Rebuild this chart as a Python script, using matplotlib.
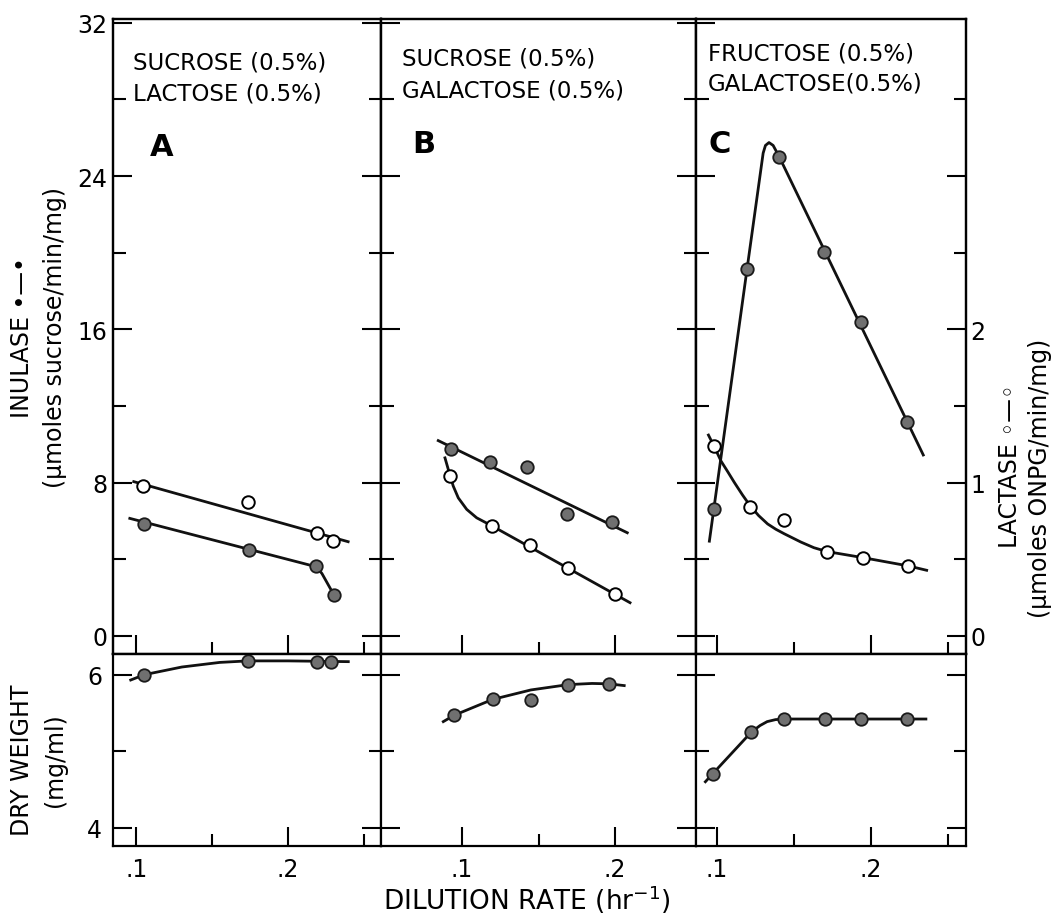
import matplotlib
matplotlib.use("Agg")
import matplotlib.pyplot as plt

plt.rcParams["font.family"] = ["DejaVu Sans"]

W, H = 1057, 920

# dilution rate (hr^-1) vs. inulase (umoles sucrose/min/mg),
# lactase (umoles ONPG/min/mg) and dry weight (mg/ml)

# A: sucrose + lactose
a_inu_x = [0.1053, 0.1742, 0.2189, 0.2303]
a_inu_y = [5.85, 4.47, 3.63, 2.15]
a_lac_x = [0.1044, 0.1735, 0.2194, 0.2299]
a_lac_y = [0.98, 0.87, 0.674, 0.62]
a_dw_x = [0.1053, 0.1737, 0.2193, 0.2288]
a_dw_y = [6.0, 6.18, 6.17, 6.17]
a_inu_fit_x = [0.0956, 0.2189, 0.2225, 0.2303]
a_inu_fit_y = [6.13, 3.60, 3.25, 2.15]
a_lac_fit_x = [0.0982, 0.2398]
a_lac_fit_y = [1.006, 0.614]
a_dw_fit_x = [0.0962, 0.1053, 0.13, 0.155, 0.1737, 0.2, 0.2399]
a_dw_fit_y = [5.93, 6.0, 6.1, 6.16, 6.18, 6.18, 6.17]

# B: sucrose + galactose
b_inu_x = [0.0928, 0.1183, 0.1423, 0.1684, 0.1983]
b_inu_y = [9.75, 9.08, 8.82, 6.34, 5.94]
b_lac_x = [0.0922, 0.1198, 0.1444, 0.1695, 0.2]
b_lac_y = [1.046, 0.716, 0.59, 0.445, 0.27]
b_dw_x = [0.095, 0.12, 0.1449, 0.1695, 0.196]
b_dw_y = [5.47, 5.676, 5.667, 5.87, 5.88]
b_inu_fit_x = [0.0845, 0.208]
b_inu_fit_y = [10.19, 5.38]
b_lac_fit_x = [0.0889, 0.0922, 0.0943, 0.0976, 0.1031, 0.1096, 0.1198, 0.2098]
b_lac_fit_y = [1.161, 1.046, 0.977, 0.90, 0.825, 0.77, 0.716, 0.216]
b_dw_fit_x = [0.0878, 0.095, 0.12, 0.145, 0.1695, 0.185, 0.196, 0.206]
b_dw_fit_y = [5.386, 5.47, 5.676, 5.80, 5.87, 5.885, 5.88, 5.857]

# C: fructose + galactose
c_inu_x = [0.0979, 0.1195, 0.1405, 0.1693, 0.1938, 0.2239]
c_inu_y = [6.62, 19.14, 25.0, 20.04, 16.38, 11.14]
c_lac_x = [0.0979, 0.1214, 0.1433, 0.1714, 0.195, 0.2245]
c_lac_y = [1.24, 0.84, 0.756, 0.55, 0.51, 0.456]
c_dw_x = [0.0972, 0.1222, 0.1435, 0.1703, 0.1935, 0.2233]
c_dw_y = [4.705, 5.247, 5.42, 5.42, 5.42, 5.42]
c_inu_fit_x = [0.095, 0.1195, 0.130, 0.1315, 0.1338, 0.1365, 0.1405, 0.2342]
c_inu_fit_y = [4.94, 19.14, 25.2, 25.6, 25.75, 25.6, 25.0, 9.44]
c_lac_fit_x = [0.0944, 0.0979, 0.1026, 0.107, 0.1113, 0.1165, 0.1214, 0.127,
               0.1329, 0.1383, 0.1437, 0.1545, 0.163, 0.1714, 0.195, 0.2245, 0.2364]
c_lac_fit_y = [1.31, 1.24, 1.14, 1.07, 1.0, 0.92, 0.85, 0.785,
               0.73, 0.695, 0.666, 0.612, 0.575, 0.55, 0.51, 0.456, 0.4275]
c_dw_fit_x = [0.0924, 0.0972, 0.1222, 0.1280, 0.1326, 0.1380, 0.1435, 0.2359]
c_dw_fit_y = [4.6, 4.705, 5.247, 5.335, 5.386, 5.412, 5.42, 5.42]

panel_text = [("SUCROSE (0.5%)", "LACTOSE (0.5%)", "A"),
              ("SUCROSE (0.5%)", "GALACTOSE (0.5%)", "B"),
              ("FRUCTOSE (0.5%)", "GALACTOSE(0.5%)", "C")]

inu_lim = (-0.95, 32.2)
lac_lim = (inu_lim[0] / 8, inu_lim[1] / 8)
dw_lim = (3.76, 6.27)

cols = [(113, 381), (381, 696), (696, 966)]
xlims = [(0.0845, 0.2615), (0.0471, 0.2529), (0.0863, 0.262)]
minor_x = [[0.15, 0.25], [0.15], [0.15, 0.25]]
text_pos = [(0.075, 0.950, 0.902, 0.138, 0.822),
            (0.067, 0.956, 0.906, 0.098, 0.827),
            (0.044, 0.965, 0.917, 0.048, 0.827)]

data = [
    (a_inu_x, a_inu_y, a_lac_x, a_lac_y, a_dw_x, a_dw_y,
     a_inu_fit_x, a_inu_fit_y, a_lac_fit_x, a_lac_fit_y, a_dw_fit_x, a_dw_fit_y),
    (b_inu_x, b_inu_y, b_lac_x, b_lac_y, b_dw_x, b_dw_y,
     b_inu_fit_x, b_inu_fit_y, b_lac_fit_x, b_lac_fit_y, b_dw_fit_x, b_dw_fit_y),
    (c_inu_x, c_inu_y, c_lac_x, c_lac_y, c_dw_x, c_dw_y,
     c_inu_fit_x, c_inu_fit_y, c_lac_fit_x, c_lac_fit_y, c_dw_fit_x, c_dw_fit_y),
]

fig = plt.figure(figsize=(W / 100, H / 100), dpi=100)


def add_panel(left, right, top, bottom):
    return fig.add_axes([left / W, 1 - bottom / H, (right - left) / W, (bottom - top) / H])


def style_axes(ax):
    for s in ax.spines.values():
        s.set_linewidth(1.6)
    ax.tick_params(which="major", direction="in", length=14, width=1.5,
                   labelsize=17, pad=4)
    ax.tick_params(which="minor", direction="in", length=9, width=1.5)


filled = dict(marker="o", ms=9, mfc="#707070", mec="#1a1a1a", mew=1.3, ls="none", zorder=4)
opened = dict(marker="o", ms=9, mfc="white", mec="black", mew=1.4, ls="none", zorder=4)
line = dict(color="#111111", lw=2.0, zorder=3)
narrow = ["Liberation Sans Narrow", "DejaVu Sans"]

for i, ((l, r), xl, d) in enumerate(zip(cols, xlims, data)):
    (ix, iy, lx, ly, dx, dy, ifx, ify, lfx, lfy, dfx, dfy) = d
    top = add_panel(l, r, 20, 655)
    bot = add_panel(l, r, 655, 847)
    tw = top.twinx()

    for ax in (top, bot, tw):
        style_axes(ax)
        ax.set_xlim(*xl)
    top.set_ylim(*inu_lim)
    tw.set_ylim(*lac_lim)
    bot.set_ylim(*dw_lim)

    for ax in (top, bot):
        ax.set_xticks([0.1, 0.2])
        ax.set_xticks(minor_x[i], minor=True)
    top.set_yticks([0, 8, 16, 24, 32])
    top.set_yticks([4, 12, 20, 28], minor=True)
    bot.set_yticks([4, 6])
    bot.set_yticks([5], minor=True)
    bot.set_xticklabels([".1", ".2"])

    top.tick_params(which="both", left=True, right=(i < 2), top=False, bottom=True,
                    labelleft=(i == 0), labelbottom=False)
    bot.tick_params(which="both", left=True, right=True, top=False, bottom=True,
                    labelleft=(i == 0), labelbottom=True, pad=8)
    if i == 2:
        tw.set_yticks([0, 1, 2, 3])
        tw.set_yticklabels(["0", "1", "2", ""])
        tw.set_yticks([0.5, 1.5, 2.5, 3.5], minor=True)
        tw.tick_params(which="both", right=True, labelright=True, pad=3)
    else:
        tw.set_yticks([])

    top.plot(ifx, ify, **line)
    top.plot(ix, iy, **filled)
    tw.plot(lfx, lfy, **line)
    tw.plot(lx, ly, **opened)
    bot.plot(dfx, dfy, **line)
    bot.plot(dx, dy, **filled)

    t1, t2, letter = panel_text[i]
    tx, ty1, ty2, lx0, ly0 = text_pos[i]
    top.text(tx, ty1, t1, transform=top.transAxes, fontsize=16.5, va="top", ha="left")
    top.text(tx, ty2, t2, transform=top.transAxes, fontsize=16.5, va="top", ha="left")
    top.text(lx0, ly0, letter, transform=top.transAxes, fontsize=22, fontweight="bold",
             family=narrow, va="top", ha="left")

fig.text(22 / W, 1 - 338 / H, "INULASE \u2022\u2014\u2022", rotation=90,
         ha="center", va="center", fontsize=17)
fig.text(55 / W, 1 - 337 / H, "(\u03bcmoles sucrose/min/mg)", rotation=90,
         ha="center", va="center", fontsize=17)
fig.text(22 / W, 1 - 760 / H, "DRY WEIGHT", rotation=90,
         ha="center", va="center", fontsize=17)
fig.text(55 / W, 1 - 760 / H, "(mg/ml)", rotation=90,
         ha="center", va="center", fontsize=17)
fig.text(1010 / W, 1 - 466 / H, "LACTASE \u25e6\u2014\u25e6", rotation=90,
         ha="center", va="center", fontsize=17)
fig.text(1040 / W, 1 - 478 / H, "(\u03bcmoles ONPG/min/mg)", rotation=90,
         ha="center", va="center", fontsize=17)
fig.text(527 / W, 1 - 900 / H, "DILUTION RATE (hr$^{-1}$)", ha="center", va="center",
         fontsize=19, family=narrow)

fig.savefig("out.png", dpi=100, facecolor="white")
